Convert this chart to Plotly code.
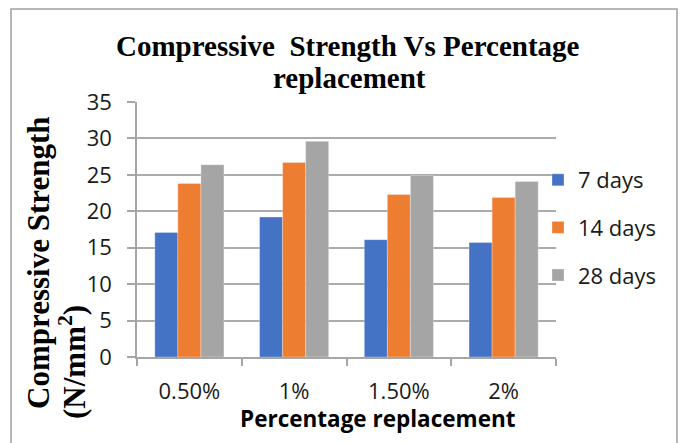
import plotly.graph_objects as go

# Compressive strength (N/mm²) by percentage replacement and curing age
categories = ["0.50%", "1%", "1.50%", "2%"]
days_7 = [17.1, 19.2, 16.1, 15.7]
days_14 = [23.8, 26.7, 22.3, 21.9]
days_28 = [26.4, 29.6, 24.9, 24.1]
series_names = ["7 days", "14 days", "28 days"]
y_ticks = [0, 5, 10, 15, 20, 25, 30, 35]

W, H = 684, 443
# plot-area box in pixels
L, R, T, B = 137, 556, 102, 357


def px_x(px):
    return (px - L) / (R - L)


def px_y(py):
    return (B - py) / (B - T)


SERIF = "Liberation Serif"
SANS = "Open Sans"
colors = ["#4472C4", "#ED7D31", "#A5A5A5"]

fig = go.Figure()
for name, vals, col in zip(series_names, [days_7, days_14, days_28], colors):
    fig.add_trace(go.Bar(
        x=categories, y=vals, name=name, legendgroup=name,
        marker=dict(color=col, line=dict(color="rgba(255,255,255,0.5)", width=0.6)),
    ))

fig.update_layout(
    width=W, height=H,
    margin=dict(l=L, r=W - R, t=T, b=H - B),
    paper_bgcolor="white", plot_bgcolor="white",
    barmode="group", bargap=0.34, bargroupgap=0,
    font=dict(family=SANS, color="#1a1a1a"),
    showlegend=True,
    legend=dict(
        x=px_x(538), y=px_y(159), xanchor="left", yanchor="top",
        font=dict(family=SANS, size=22, color="#1a1a1a"),
        traceorder="grouped", tracegroupgap=16,
        bgcolor="rgba(0,0,0,0)",
    ),
)

fig.update_xaxes(
    type="category",
    showline=True, linecolor="#a6a6a6", linewidth=1.5,
    ticks="outside", tickson="boundaries", ticklen=7, tickcolor="#a6a6a6", tickwidth=1.5,
    tickfont=dict(family=SANS, size=22, color="#1a1a1a"),
    ticklabelstandoff=14,
    showgrid=False,
)
fig.update_yaxes(
    range=[0, 35], tickvals=y_ticks,
    showline=True, linecolor="#a6a6a6", linewidth=1.5,
    ticks="outside", ticklen=8, tickcolor="#a6a6a6", tickwidth=1.5,
    showgrid=True, gridcolor="#ababab", gridwidth=1.5,
    zeroline=False,
    tickfont=dict(family=SANS, size=22, color="#1a1a1a"),
    ticklabelstandoff=11,
)

ann = []
# chart title, two lines
ann.append(dict(text="<b>Compressive  Strength Vs Percentage</b>", x=px_x(348), y=px_y(46),
                font=dict(family=SERIF, size=29, color="black")))
ann.append(dict(text="<b>replacement</b>", x=px_x(349), y=px_y(78),
                font=dict(family=SERIF, size=29, color="black")))
# y axis title, two rotated lines
ann.append(dict(text="<b>Compressive Strength</b>", x=px_x(38), y=px_y(263), textangle=-90,
                font=dict(family=SERIF, size=31, color="black")))
ann.append(dict(text="<b>(N/mm<sup>2</sup>)</b>", x=px_x(72), y=px_y(362), textangle=-90,
                font=dict(family=SERIF, size=31, color="black")))
# x axis title
ann.append(dict(text="<b>Percentage replacement</b>", x=px_x(378), y=px_y(418),
                font=dict(family=SANS, size=22.5, color="black")))
for a in ann:
    a.update(xref="paper", yref="paper", xanchor="center", yanchor="middle", showarrow=False)
fig.update_layout(annotations=ann)

# outer chart frame
fig.add_shape(type="rect", xref="paper", yref="paper",
              x0=px_x(11), x1=px_x(677), y0=px_y(452), y1=px_y(9),
              line=dict(color="#a0a0a0", width=1.5), fillcolor="rgba(0,0,0,0)", layer="below")

fig.write_html("out.html")
